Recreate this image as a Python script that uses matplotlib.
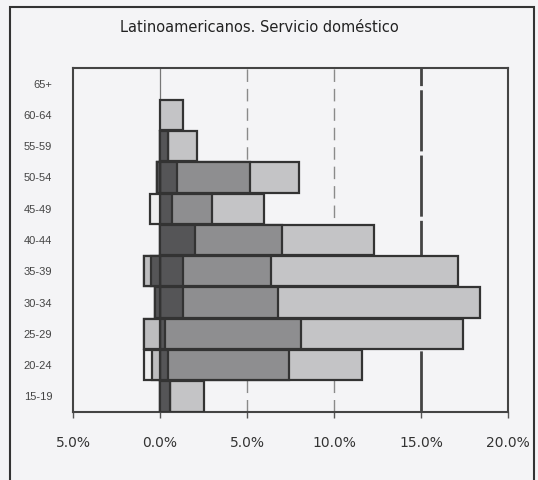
import matplotlib.pyplot as plt
from matplotlib.patches import Rectangle

plt.rcParams['font.family'] = ['Liberation Sans', 'DejaVu Sans']

ages = ['15-19', '20-24', '25-29', '30-34', '35-39', '40-44',
        '45-49', '50-54', '55-59', '60-64', '65+']

# right side, stacked values drawn as overlapping totals from 0
light = [2.5, 11.6, 17.4, 18.4, 17.1, 12.3, 6.0, 8.0, 2.1, 1.3, 0]
medium = [0.6, 7.4, 8.1, 6.8, 6.4, 7.0, 3.0, 5.2, 0.45, 0, 0]
dark = [0.6, 0.45, 0.3, 1.3, 1.3, 2.0, 0.7, 1.0, 0.45, 0, 0]

# left side (negative)
white_neg = [0, -0.9, -0.9, -0.3, -0.9, 0, -0.55, -0.2, 0, 0, 0]
light_neg = [0, -0.45, -0.9, -0.3, -0.9, 0, 0, -0.2, 0, 0, 0]
dark_neg = [0, 0, 0, -0.3, -0.5, 0, 0, -0.2, 0, 0, 0]

xticks = [-5, 0, 5, 10, 15, 20]
xlabels = ['5.0%', '0.0%', '5.0%', '10.0%', '15.0%', '20.0%']

bg = '#f4f4f6'
edge = '#333333'

fig = plt.figure(figsize=(5.38, 4.80), dpi=100, facecolor=bg)
fig.patches.append(Rectangle((10 / 538, -5 / 480), 524 / 538, 478 / 480,
                             transform=fig.transFigure, fill=False,
                             edgecolor='#333333', linewidth=1.5))
ax = fig.add_axes([73 / 538, 1 - 412 / 480, 435 / 538, 344 / 480])
ax.set_facecolor(bg)

h = 0.97
for vals, col in [(light, '#c4c4c6'), (medium, '#8e8e90'), (dark, '#555557'),
                  (white_neg, '#eeeeef'), (light_neg, '#bdbdbf'), (dark_neg, '#555557')]:
    idx = [i for i, v in enumerate(vals) if v != 0]
    ax.barh(idx, [vals[i] for i in idx], height=h, color=col,
            edgecolor=edge, linewidth=1.6, zorder=3)

ax.axvline(0, color='#777777', linewidth=0.9, zorder=1)
ax.axvline(5, color='#8a8a8a', linewidth=1.0, linestyle=(0, (9, 5)), zorder=1)
ax.axvline(10, color='#8a8a8a', linewidth=1.0, linestyle=(0, (9, 5)), zorder=1)
ax.axvline(15, color='#444444', linewidth=2.0, linestyle=(0, (22, 1.5)), zorder=1)

ax.set_xlim(-5, 20)
ax.set_ylim(-0.5, len(ages) - 0.5)
ax.set_xticks(xticks)
ax.set_xticklabels(xlabels, fontsize=10, color='#333333', family='DejaVu Sans')
ax.set_yticks(range(len(ages)))
ax.set_yticklabels(ages, fontsize=8, color='#444444')
ax.tick_params(axis='x', length=4, width=1, color='#555555', pad=13)
ax.tick_params(axis='y', length=0, pad=15)
for s in ax.spines.values():
    s.set_color('#444444')
    s.set_linewidth(1.5)

fig.text(259 / 538, 1 - 27 / 480, 'Latinoamericanos. Servicio doméstico',
         ha='center', va='center', fontsize=10.5, color='#222222',
         family='DejaVu Sans')

plt.savefig('out.png', dpi=100, facecolor=bg)
